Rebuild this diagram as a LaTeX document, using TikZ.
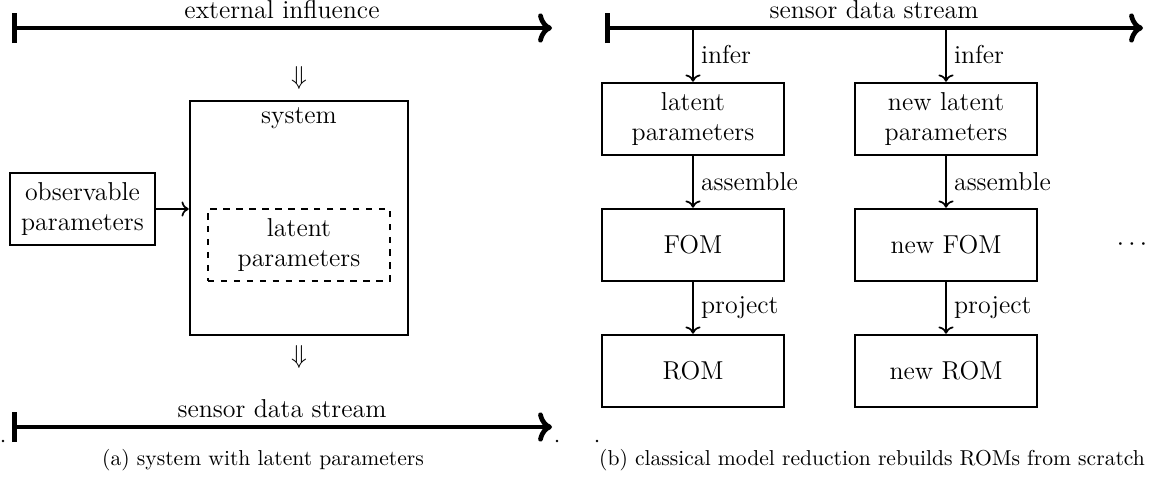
\documentclass[tikz,border=0pt]{standalone}
\usetikzlibrary{arrows.meta}
\newcommand\pxu{0.4636pt}
\begin{document}
\begin{tikzpicture}[x=0.4636pt,y=-0.4636pt,
  stream/.style={line width=2.2pt, {Bar[width=14pt]}-{Computer Modern Rightarrow}},
  box/.style={draw, line width=1.2pt, align=center, font=\large,
    minimum width=182*\pxu, minimum height=72*\pxu, inner sep=2pt},
  flow/.style={thick, ->},
  lbl/.style={font=\large},
  subcap/.style={font=\normalsize},
  speck/.style={fill=black, inner sep=0pt, minimum size=1.2pt, circle}]
\useasboundingbox (0,0) rectangle (1151,479);

% ---------- (a) system with latent parameters ----------
\coordinate (inA) at (12,28);
\coordinate (inB) at (552,28);
\draw[stream] (inA) -- node[above, lbl] (inL) {external influence} (inB);
\node[lbl] (dnA) at (299,78) {$\Downarrow$};

\node[draw, line width=1.2pt, minimum width=218*\pxu, minimum height=234*\pxu] (sys) at (299,218) {};
\node[lbl] (sysT) at (299,118) {system};
\node[box, dashed] (lat) at (299,245) {latent\\parameters};
\node[box, minimum width=145*\pxu] (obs) at (82.5,209) {observable\\parameters};
\draw[flow] (obs.east) -- (obs.east -| sys.west);

\node[lbl] (dnB) at (299,357) {$\Downarrow$};
\coordinate (sdA) at (12,427);
\coordinate (sdB) at (552,427);
\draw[stream] (sdA) -- node[above, lbl] (sdL) {sensor data stream} (sdB);

\node[speck] (s1) at (3,441) {};
\node[speck] (s2) at (557,441) {};
\node[speck] (s3) at (597,441) {};
\node[subcap] (capA) at (263,460) {(a) system with latent parameters};

% ---------- (b) classical model reduction ----------
\coordinate (rsA) at (605,28);
\coordinate (rsB) at (1143,28);
\draw[stream] (rsA) -- node[above, lbl] (rsL) {sensor data stream} (rsB);

\node[box] (lp1) at (693,119) {latent\\parameters};
\node[box] (fom1) at (693,245) {FOM};
\node[box] (rom1) at (693,371) {ROM};
\node[box] (lp2) at (946,119) {new latent\\parameters};
\node[box] (fom2) at (946,245) {new FOM};
\node[box] (rom2) at (946,371) {new ROM};

\draw[flow] (lp1 |- rsA) -- node[right, lbl] {infer} (lp1);
\draw[flow] (lp1) -- node[right, lbl] {assemble} (fom1);
\draw[flow] (fom1) -- node[right, lbl] {project} (rom1);
\draw[flow] (lp2 |- rsA) -- node[right, lbl] {infer} (lp2);
\draw[flow] (lp2) -- node[right, lbl] {assemble} (fom2);
\draw[flow] (fom2) -- node[right, lbl] {project} (rom2);

\node[lbl] (more) at (1132,245) {$\cdots$};
\node[subcap] (capB) at (872,460) {(b) classical model reduction rebuilds ROMs from scratch};
\end{tikzpicture}
\end{document}
